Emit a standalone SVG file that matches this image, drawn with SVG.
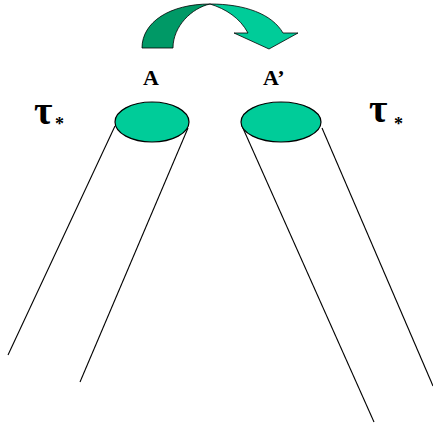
<svg xmlns="http://www.w3.org/2000/svg" width="433" height="428" viewBox="0 0 433 428">
<style>
.ln{stroke:#000;stroke-width:1.1;fill:none}
.el{fill:#00CC99;stroke:#000;stroke-width:1.2}
.lbl{font-family:"Liberation Serif",serif;font-weight:bold;fill:#000}
.tau{font-size:40px}
.star{font-size:18px}
</style>
<rect width="433" height="428" fill="#fff"/>
<g id="arrow">
<path d="M142,48 C142,22 170,4 210,4 C192,8 173,26 173,48 Z" fill="#009966" stroke="#000" stroke-width="0.8"/>
<path d="M210,4 C245,4 272,14 283,33 L298,33 L269,49 L234,33 L248,33 C240,18 226,9 210,4 Z" fill="#00CC99" stroke="#000" stroke-width="0.8"/>
</g>
<g id="connectors">
<line class="ln" x1="115" y1="126" x2="8" y2="355"/>
<line class="ln" x1="188" y1="128" x2="80" y2="382"/>
<line class="ln" x1="242" y1="126" x2="374" y2="422"/>
<line class="ln" x1="322" y1="128" x2="433" y2="386"/>
</g>
<g id="nodeA">
<ellipse class="el" cx="152" cy="122" rx="37" ry="20"/>
<text class="lbl" x="143" y="85" font-size="22">A</text>
</g>
<g id="nodeA2">
<ellipse class="el" cx="281" cy="122" rx="40" ry="20"/>
<text class="lbl" x="263" y="85" font-size="22">A’</text>
</g>
<g id="tauL">
<text class="lbl tau" x="34" y="124">τ</text>
<text class="lbl star" x="55" y="130">*</text>
</g>
<g id="tauR">
<text class="lbl tau" x="369" y="122">τ</text>
<text class="lbl star" x="394" y="130">*</text>
</g>
</svg>
